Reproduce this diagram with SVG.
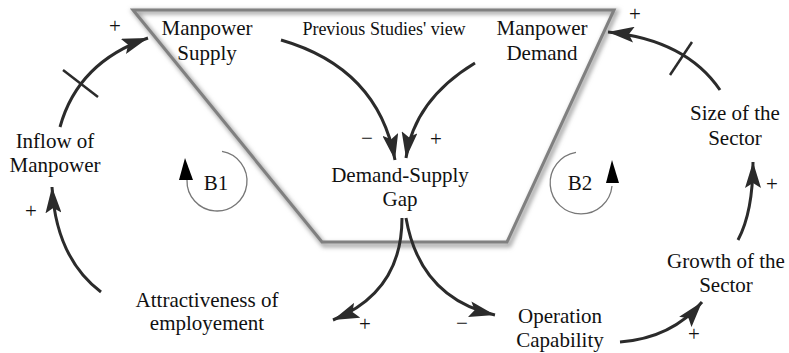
<svg xmlns="http://www.w3.org/2000/svg" width="789" height="353" viewBox="0 0 789 353">
  <style>
    text { font-family: 'Liberation Serif', 'Times New Roman', Times, serif; font-size: 21px; fill: #111; text-anchor: middle; }
    .s { font-size: 18px; }
    .link { fill: none; stroke: #2b2b2b; stroke-width: 3; marker-end: url(#head); }
    .tick { stroke: #2b2b2b; stroke-width: 2.5; }
    .loop { fill: none; stroke: #777; stroke-width: 1.3; }
    .loophead { fill: #000; }
  </style>
  <defs>
    <marker id="head" markerUnits="userSpaceOnUse" markerWidth="28" markerHeight="16" refX="26" refY="8" orient="auto">
      <path d="M0,0 L26,8 L0,16 L5,8 z" fill="#2b2b2b"/>
    </marker>
    <filter id="soft" x="-10%" y="-10%" width="120%" height="130%">
      <feGaussianBlur stdDeviation="2"/>
    </filter>
  </defs>

  <rect width="789" height="353" fill="#fff"/>

  <!-- boundary of the demand-supply area -->
  <g id="boundary">
    <polygon points="135,12 616,12 509,245 324,245" fill="none" stroke="#aaa" stroke-width="5" filter="url(#soft)"/>
    <polygon points="133,10 614,10 507,242 322,242" fill="none" stroke="#808080" stroke-width="3"/>
  </g>

  <!-- causal links -->
  <g id="connectors">
    <path class="link" d="M60,127 Q78,62 148,38"/>
    <line class="tick" x1="63" y1="70" x2="98" y2="97"/>
    <path class="link" d="M101,292 Q56,258 52,187"/>
    <path class="link" d="M281,40 Q378,68 395,160"/>
    <path class="link" d="M475,63 Q414,100 406,158"/>
    <path class="link" d="M402,218 Q402,292 333,320"/>
    <path class="link" d="M406,218 Q420,298 495,315"/>
    <path class="link" d="M620,342 Q672,338 702,302"/>
    <path class="link" d="M738,240 Q753,212 753,162"/>
    <path class="link" d="M720,90 Q686,40 608,32"/>
    <line class="tick" x1="670" y1="75" x2="692" y2="42"/>
  </g>

  <!-- polarity signs -->
  <g id="signs">
    <text x="115" y="33">+</text>
    <text x="31" y="218">+</text>
    <text x="365" y="331">+</text>
    <text x="462" y="330">−</text>
    <text x="367" y="145">−</text>
    <text x="436" y="146">+</text>
    <text x="694" y="341">+</text>
    <text x="772" y="191">+</text>
    <text x="635" y="21">+</text>
  </g>

  <!-- balancing loops -->
  <g id="loop-b1">
    <path class="loop" d="M222,151.4 A30,30 0 1 1 187,180"/>
    <polygon class="loophead" points="185,158 179,180 193,180"/>
    <text x="216" y="190">B1</text>
  </g>
  <g id="loop-b2">
    <path class="loop" d="M576,152.4 A31,31 0 1 0 612,186"/>
    <polygon class="loophead" points="612,160 606,183 619,183"/>
    <text x="580" y="190">B2</text>
  </g>

  <!-- variables -->
  <g id="manpower-supply">
    <text x="207" y="35">Manpower</text>
    <text x="207" y="60">Supply</text>
  </g>
  <g id="previous-studies">
    <text class="s" x="384" y="35">Previous Studies' view</text>
  </g>
  <g id="manpower-demand">
    <text x="542" y="35">Manpower</text>
    <text x="542" y="60">Demand</text>
  </g>
  <g id="demand-supply-gap">
    <text x="400" y="182">Demand-Supply</text>
    <text x="400" y="206">Gap</text>
  </g>
  <g id="inflow-of-manpower">
    <text x="55" y="148">Inflow of</text>
    <text x="55" y="172">Manpower</text>
  </g>
  <g id="size-of-sector">
    <text x="735" y="120">Size of the</text>
    <text x="735" y="145">Sector</text>
  </g>
  <g id="attractiveness">
    <text x="207" y="307">Attractiveness of</text>
    <text x="207" y="330">employement</text>
  </g>
  <g id="operation-capability">
    <text x="560" y="323">Operation</text>
    <text x="560" y="347">Capability</text>
  </g>
  <g id="growth-of-sector">
    <text x="726" y="268">Growth of the</text>
    <text x="726" y="292">Sector</text>
  </g>
</svg>
